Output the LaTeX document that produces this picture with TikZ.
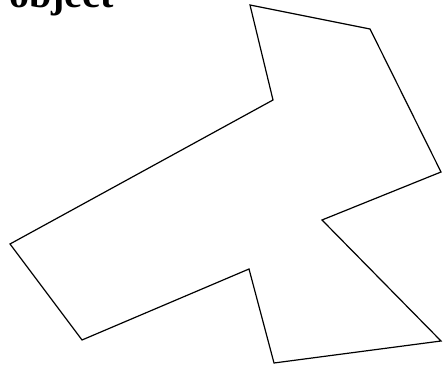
\documentclass[tikz,border=0pt]{standalone}
\usepackage{fontspec}
\setmainfont{Liberation Serif}[BoldFont={Liberation Serif Bold}]
\newfontfamily\titlefont{Liberation Serif Bold}
\begin{document}
\begin{tikzpicture}[x=1pt,y=1pt,
  shape line/.style={draw=black,line width=1.2pt,line join=miter},
  title text/.style={inner sep=0pt,anchor=base west,font=\titlefont\fontsize{40}{40}\selectfont}]
\useasboundingbox (0,0) rectangle (443,371);
\clip (0,0) rectangle (443,371);
\node[title text] (title) at (9,363) {object};
\coordinate (A) at (250,366);
\coordinate (B) at (370,342);
\coordinate (C) at (441,199);
\coordinate (D) at (322,151);
\coordinate (E) at (441,30);
\coordinate (F) at (274,8);
\coordinate (G) at (249,102);
\coordinate (H) at (82,31);
\coordinate (I) at (10,127);
\coordinate (J) at (273,271);
\draw[shape line] (A) -- (B) -- (C) -- (D) -- (E) -- (F) -- (G) -- (H) -- (I) -- (J) -- cycle;
\end{tikzpicture}
\end{document}
